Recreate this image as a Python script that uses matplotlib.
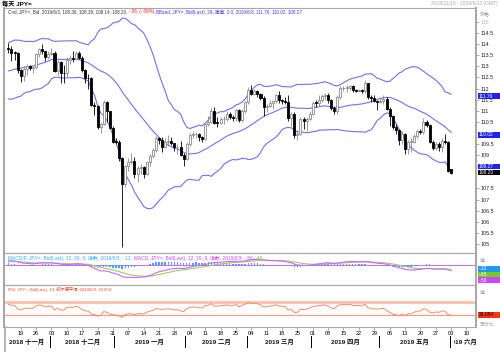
import numpy as np
import pandas as pd
import matplotlib
matplotlib.use('Agg')
import matplotlib.pyplot as plt
from matplotlib.patches import Rectangle
from matplotlib.transforms import Bbox

plt.rcParams['font.family'] = ['Liberation Sans', 'Noto Sans CJK SC', 'DejaVu Sans']

W, H = 500, 352

# closes before the visible window, only used to warm up BBand / MACD / RSI
warmup_close = [
    111.05, 111.48, 111.52, 110.70, 111.02,   # Sep 3
    111.12, 111.62, 111.27, 111.93, 112.05,   # Sep 10
    111.85, 112.33, 112.26, 112.50, 112.58,   # Sep 17
    112.80, 112.98, 112.72, 113.40, 113.70,   # Sep 24
    113.94, 113.62, 114.50, 113.90, 113.70,   # Oct 1
    113.15, 113.00, 112.25, 112.15, 112.20,   # Oct 8
    111.78, 112.25, 112.65, 112.20, 112.55,   # Oct 15
    112.83, 112.45, 112.22, 112.40, 111.90,   # Oct 22
    112.40, 113.05, 112.95, 112.70, 113.20,   # Oct 29
    113.18, 113.45, 113.50, 113.98, 113.83,   # Nov 5
    113.85,                                   # Nov 12
]

# daily candles 2018-11-13 .. 2019-06-03
opens = [
    113.83, 113.80, 113.62, 113.60,
    112.83, 112.55, 112.86, 113.00, 112.93,
    112.96, 113.55, 113.78, 113.68, 113.43,
    113.57, 113.58, 112.80, 113.18, 112.69,
    112.68, 113.30, 113.37, 113.35, 113.62,
    113.39, 112.83, 112.47, 112.46, 111.24,
    111.23, 110.28, 110.42, 111.38, 110.97,
    110.23, 109.61, 109.60, 108.88, 107.68,
    108.53, 108.71, 108.74, 108.16, 108.42,
    108.48, 108.15, 108.68, 108.97, 109.24,
    109.77, 109.67, 109.36, 109.60, 109.65,
    109.53, 109.35, 109.37, 109.02, 108.84,
    109.49, 109.89, 109.94, 109.97, 109.80,
    109.74, 110.40, 110.48, 111.01, 110.47,
    110.46, 110.61, 110.64, 110.86, 110.72,
    110.67, 111.05, 110.57, 111.01, 111.38,
    111.93, 111.76, 111.89, 111.77, 111.59,
    111.16, 111.21, 111.36, 111.42, 111.69,
    111.48, 111.44, 111.39, 110.66, 110.85,
    109.92, 109.96, 110.63, 110.52, 110.64,
    110.84, 111.36, 111.35, 111.49, 111.65,
    111.72, 111.48, 111.14, 110.98, 111.62,
    112.01, 112.02, 112.03, 112.10, 111.93,
    111.90, 111.93, 111.87, 112.23, 111.60,
    111.57, 111.42, 111.40, 111.45, 111.51,
    111.10, 110.75, 110.25, 110.11, 109.70,
    109.95, 109.28, 109.60, 109.60, 109.87,
    110.07, 110.05, 110.51, 110.38, 109.60,
    109.30, 109.52, 109.38, 109.64, 109.61,
    108.36,
]
highs = [
    114.05, 113.92, 113.70, 113.66,
    112.88, 113.00, 113.10, 113.05, 113.00,
    113.60, 113.84, 114.03, 113.70, 113.70,
    113.82, 113.70, 113.30, 113.25, 113.08,
    113.40, 113.50, 113.70, 113.70, 113.70,
    113.45, 112.90, 112.65, 112.50, 111.40,
    111.25, 110.50, 111.48, 111.45, 111.00,
    110.30, 109.75, 109.68, 108.90, 108.55,
    108.88, 109.10, 108.90, 108.50, 108.60,
    108.52, 108.75, 109.05, 109.30, 109.87,
    109.80, 109.80, 109.75, 109.90, 109.80,
    109.55, 109.50, 109.62, 109.10, 109.60,
    110.00, 110.10, 110.05, 110.00, 109.85,
    110.45, 110.75, 111.12, 111.15, 110.70,
    110.70, 110.75, 111.00, 110.95, 110.80,
    111.10, 111.10, 111.10, 111.45, 112.08,
    112.14, 112.00, 111.95, 111.80, 111.65,
    111.30, 111.50, 111.50, 111.75, 111.90,
    111.55, 111.60, 111.69, 110.95, 110.95,
    110.15, 110.70, 110.70, 110.70, 111.00,
    111.45, 111.50, 111.70, 111.75, 111.82,
    111.80, 111.55, 111.20, 111.70, 112.10,
    112.10, 112.15, 112.17, 112.15, 112.00,
    112.00, 112.00, 112.40, 112.25, 111.70,
    111.70, 111.50, 111.60, 111.70, 111.60,
    111.15, 110.80, 110.40, 110.20, 110.10,
    110.00, 109.70, 109.75, 109.95, 110.20,
    110.20, 110.67, 110.60, 110.40, 109.70,
    109.60, 109.60, 109.75, 109.95, 109.65,
    108.39,
]
lows = [
    113.62, 113.25, 113.28, 112.72,
    112.30, 112.35, 112.60, 112.85, 112.68,
    112.90, 113.40, 113.55, 113.25, 113.35,
    113.50, 112.75, 112.60, 112.25, 112.23,
    112.50, 113.10, 113.20, 113.30, 113.35,
    112.75, 112.25, 112.00, 111.20, 110.80,
    110.20, 110.00, 110.35, 110.50, 110.20,
    109.55, 109.50, 108.72, 104.87, 107.55,
    108.30, 108.60, 107.95, 107.77, 108.15,
    107.98, 108.10, 108.50, 108.85, 109.15,
    109.52, 109.15, 109.30, 109.40, 109.45,
    109.20, 109.05, 108.95, 108.50, 108.80,
    109.40, 109.75, 109.75, 109.65, 109.60,
    109.70, 110.30, 110.45, 110.40, 110.25,
    110.40, 110.40, 110.55, 110.65, 110.55,
    110.55, 110.48, 110.50, 110.90, 111.30,
    111.70, 111.70, 111.60, 111.50, 110.78,
    110.95, 111.15, 111.10, 111.35, 111.35,
    111.30, 111.30, 110.55, 110.30, 109.75,
    109.70, 109.90, 110.20, 110.10, 110.60,
    110.80, 111.15, 111.20, 111.40, 111.50,
    111.35, 111.05, 110.85, 110.85, 111.55,
    111.90, 111.85, 111.95, 111.85, 111.85,
    111.85, 111.80, 111.80, 111.55, 111.40,
    111.40, 111.05, 111.35, 111.30, 111.05,
    110.30, 110.20, 109.95, 109.45, 109.50,
    109.05, 109.05, 109.15, 109.55, 109.75,
    109.95, 109.95, 110.25, 109.55, 109.25,
    109.25, 109.20, 109.15, 109.50, 108.25,
    108.14,
]
closes = [
    113.80, 113.62, 113.60, 112.83,
    112.55, 112.86, 113.00, 112.93, 112.96,
    113.55, 113.78, 113.68, 113.43, 113.57,
    113.58, 112.80, 113.18, 112.69, 112.68,
    113.30, 113.37, 113.35, 113.62, 113.39,
    112.83, 112.47, 112.46, 111.24, 111.23,
    110.28, 110.42, 111.38, 110.97, 110.23,
    109.61, 109.60, 108.88, 107.68, 108.53,
    108.71, 108.74, 108.16, 108.42, 108.48,
    108.15, 108.68, 108.97, 109.24, 109.77,
    109.67, 109.36, 109.60, 109.65, 109.53,
    109.35, 109.37, 109.02, 108.84, 109.49,
    109.89, 109.94, 109.97, 109.80, 109.74,
    110.40, 110.48, 111.01, 110.47, 110.46,
    110.61, 110.64, 110.86, 110.72, 110.67,
    111.05, 110.57, 111.01, 111.38, 111.93,
    111.76, 111.89, 111.77, 111.59, 111.16,
    111.21, 111.36, 111.42, 111.69, 111.48,
    111.44, 111.39, 110.66, 110.85, 109.92,
    109.96, 110.63, 110.52, 110.64, 110.84,
    111.36, 111.35, 111.49, 111.65, 111.72,
    111.48, 111.14, 110.98, 111.62, 112.01,
    112.02, 112.03, 112.10, 111.93, 111.90,
    111.93, 111.87, 112.23, 111.60, 111.57,
    111.42, 111.40, 111.45, 111.51, 111.10,
    110.75, 110.25, 110.11, 109.70, 109.95,
    109.28, 109.60, 109.60, 109.87, 110.07,
    110.05, 110.51, 110.38, 109.60, 109.30,
    109.52, 109.38, 109.64, 109.61, 108.29,
    108.20,
]

# price labels (110 and 108 sit under the value tags in the original)
price_ticks = [105, 105.5, 106, 106.5, 107, 107.5, 108.5, 109, 109.5,
               110.5, 111, 111.5, 112, 112.5, 113, 113.5, 114, 114.5, 115]
month_names = {11: '十一月', 12: '十二月', 1: '一月', 2: '二月', 3: '三月',
               4: '四月', 5: '五月', 6: '六月'}

dates = pd.bdate_range('2018-11-13', '2019-06-13')
n = len(closes)
idx = np.arange(n)
k = len(warmup_close)

# indicators
c_all = pd.Series(warmup_close + closes)
mid = c_all.rolling(26).mean()
sd = c_all.rolling(26).std(ddof=0)
bb_mid = mid.values[k:]
bb_up = (mid + 2 * sd).values[k:]
bb_lo = (mid - 2 * sd).values[k:]

ema12 = c_all.ewm(span=12, adjust=False).mean()
ema26 = c_all.ewm(span=26, adjust=False).mean()
macd = ema12 - ema26
sig = macd.ewm(span=9, adjust=False).mean()
hist = (macd - sig).values[k:]
macd_v = macd.values[k:]
sig_v = sig.values[k:]

delta = c_all.diff()
gain = delta.clip(lower=0).ewm(alpha=1 / 14, adjust=False).mean()
loss = (-delta.clip(upper=0)).ewm(alpha=1 / 14, adjust=False).mean()
rsi = (100 - 100 / (1 + gain / loss)).values[k:]


def px_rect(x0, y0, x1, y1):
    return [x0 / W, 1 - y1 / H, (x1 - x0) / W, (y1 - y0) / H]


fig = plt.figure(figsize=(W / 100, H / 100), dpi=100)
fig.patch.set_facecolor('white')

ax = fig.add_axes(px_rect(4, 8, 476, 253))
axm = fig.add_axes(px_rect(4, 253, 476, 285), sharex=ax)
axr = fig.add_axes(px_rect(4, 285, 476, 327), sharex=ax)

x_lo, x_hi = -1.43, 152.1
for a in (ax, axm, axr):
    a.set_xlim(x_lo, x_hi)
    for s in a.spines.values():
        s.set_color('#a8a8a8')
        s.set_linewidth(0.8)
    a.spines['left'].set_linewidth(1.5)
    a.spines['right'].set_linewidth(1.5)
    a.yaxis.tick_right()
    a.tick_params(axis='y', direction='out', length=2, width=0.5, color='#888888',
                  labelsize=3.9, pad=1, labelcolor='#222222')
    a.tick_params(axis='x', bottom=False, labelbottom=False)

# candles
up = np.array(closes) >= np.array(opens)
for i in idx:
    o, h, l, c = opens[i], highs[i], lows[i], closes[i]
    col = '#8a8a8a' if up[i] else '#000000'
    ax.vlines(i, l, h, color=col, lw=0.6, zorder=2)
    bottom = min(o, c)
    height = max(abs(c - o), 0.03)
    ax.add_patch(Rectangle((i - 0.33, bottom), 0.66, height,
                           facecolor='white' if up[i] else 'black',
                           edgecolor=col, lw=0.6, zorder=3))

band_col = '#7070f0'
ax.plot(idx, bb_up, color=band_col, lw=0.8, zorder=1)
ax.plot(idx, bb_mid, color=band_col, lw=0.8, zorder=1)
ax.plot(idx, bb_lo, color=band_col, lw=0.8, zorder=1)
ax.set_ylim(104.59, 115.63)
ax.set_yticks(price_ticks)
ax.set_yticklabels(['%g' % t for t in price_ticks])
ax.get_yticklabels()[-1].set_color('#bbbbbb')

# MACD
axm.bar(idx, hist, width=0.45, color='#44a0ff', zorder=2)
axm.axhline(0, color='#cc66ff', lw=0.7, zorder=1)
axm.plot(idx, sig_v, color='#99d060', lw=0.8, zorder=3)
axm.plot(idx, macd_v, color='#cc66ff', lw=0.8, zorder=3)
axm.set_ylim(-1.86, 1.05)
axm.set_yticks([])

# RSI
axr.axhline(70, color='#ffc4b0', lw=2.2, zorder=1)
axr.axhline(30, color='#ff9a80', lw=0.8, zorder=1)
axr.plot(idx, rsi, color='#ff8866', lw=0.7, zorder=2)
axr.set_ylim(-10, 124.4)
axr.set_yticks([])

# date axis: Mondays
mondays = [i for i, d in enumerate(dates) if d.weekday() == 0]
axr.set_xticks(mondays)
axr.set_xticklabels([dates[i].strftime('%d') for i in mondays])
axr.tick_params(axis='x', bottom=True, labelbottom=True, direction='out', length=2,
                width=0.5, color='#888888', labelsize=4, pad=1)

# month separators and labels
first_days = [i for i in range(1, len(dates)) if dates[i].month != dates[i - 1].month]
bounds = [x_lo] + [i - 0.5 for i in first_days] + [x_hi]
trans = axr.get_xaxis_transform()
for i in first_days:
    axr.plot([i - 0.5, i - 0.5], [-0.22, -0.47], transform=trans, color='black',
             lw=0.7, clip_on=False)
for j in range(len(bounds) - 1):
    a, b = bounds[j], bounds[j + 1]
    d = dates[max(0, int(np.ceil(a)))]
    t = axr.text((a + b) / 2, -0.345, '%d %s' % (d.year, month_names[d.month]),
                 transform=trans, ha='center', va='center', fontsize=4.6,
                 fontweight='bold', color='#111111', clip_on=True)
    x0d = axr.transData.transform((max(a, x_lo) + 1.6, 0))[0]
    x1d = axr.transData.transform((min(b, x_hi), 0))[0]
    t.set_clip_box(Bbox([[x0d, 0], [x1d, H]]))

# frame line continuing down the date strip
fig.add_artist(plt.Line2D([4.5 / W, 4.5 / W], [0, 1 - 327 / H], transform=fig.transFigure,
                          color='#a8a8a8', lw=1.2))

renderer = fig.canvas.get_renderer()


def seq_text(x_px, y_px, parts, size):
    x = x_px
    for s, c in parts:
        t = fig.text(x / W, 1 - y_px / H, s, color=c, fontsize=size, va='center', ha='left')
        x += t.get_window_extent(renderer).width


def tag(y_px, s, face, tc='white'):
    fig.add_artist(Rectangle((477.5 / W, 1 - (y_px + 2.6) / H), 22 / W, 5.2 / H,
                             transform=fig.transFigure, facecolor=face,
                             edgecolor='none', zorder=5))
    fig.text(479 / W, 1 - y_px / H, s, color=tc, fontsize=3.5, va='center',
             ha='left', zorder=6)


fig.text(2 / W, 1 - 4 / H, '每天 JPY=', fontsize=4.5, fontweight='bold',
         va='center', ha='left')
fig.text(498 / W, 1 - 4 / H, '2018/11/13 - 2019/6/13 (GMT)', fontsize=3.6,
         color='#aaaaaa', va='center', ha='right')
fig.text(480 / W, 1 - 15 / H, '价格', fontsize=3.6, color='#888888', va='center')
fig.text(480 / W, 1 - 261 / H, '值', fontsize=3.6, color='#999999', va='center')
fig.text(480 / W, 1 - 292 / H, '值', fontsize=3.6, color='#999999', va='center')
fig.text(480 / W, 1 - 324 / H, '百分比', fontsize=3.6, color='#aaaaaa', va='center')

seq_text(8, 12, [('Cnd, JPY=, Bid, 2019/6/3, 108.36, 108.39, 108.14, 108.20, ', '#333333'),
                 ('-.06, (-.06%), ', '#ff2020'),
                 ('BBand, JPY=, Bid(Last), 26, 简单, 2.0, 2019/6/3, 111.76, 110.02, 108.27',
                  '#3a3af0')], 3.3)
seq_text(8, 258, [('MACD/P, JPY=, Bid(Last), 12, 26, 9, 指数, 2019/6/3, -.12, ', '#33aaff'),
                  ('MACD, JPY=, Bid(Last), 12, 26, 9, 指数, 2019/6/3, -.56, ', '#cc44ff'),
                  ('-.45', '#77cc33')], 3.5)
seq_text(8, 289, [('RSI, JPY=, Bid(Last), 14, 威尔德平滑, 2019/6/3, 26.054', '#ff4422')], 3.1)

# right-hand value tags
tag(96, '111.76', '#2222ee')
tag(135, '110.02', '#2222ee')
tag(166.5, '108.27', '#2222ee')
tag(172.5, '108.20', '#000000')
tag(269, '-.12', '#2299ee')
tag(274.5, '-.45', '#77cc22')
tag(280, '-.56', '#cc44ff')
tag(315, '26.054', '#ff3311', '#000000')

fig.savefig('out.png', dpi=100, facecolor='white')
